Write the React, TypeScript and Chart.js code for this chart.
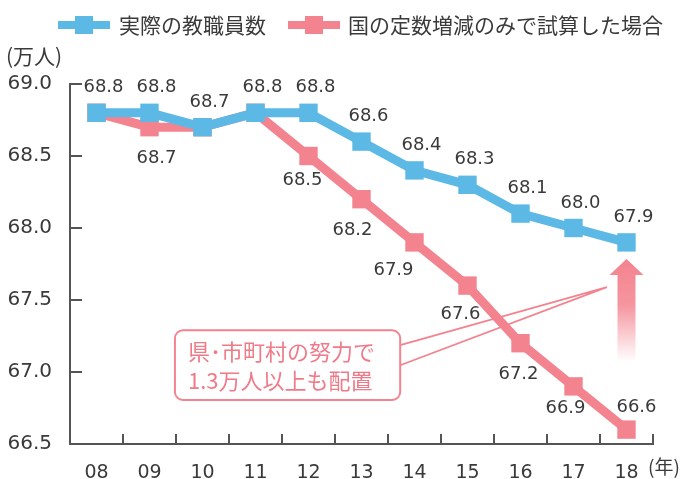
import React, { useEffect, useRef } from "react";
import { Chart, registerables } from "chart.js";

Chart.register(...registerables);

const categories = ["08", "09", "10", "11", "12", "13", "14", "15", "16", "17", "18"];
const actualStaff = [68.8, 68.8, 68.7, 68.8, 68.8, 68.6, 68.4, 68.3, 68.1, 68.0, 67.9];
const nationalOnly = [68.8, 68.7, 68.7, 68.8, 68.5, 68.2, 67.9, 67.6, 67.2, 66.9, 66.6];
const yTicks = [66.5, 67.0, 67.5, 68.0, 68.5, 69.0];
const seriesNames = ["実際の教職員数", "国の定数増減のみで試算した場合"];
const calloutLines = ["県･市町村の努力で", "1.3万人以上も配置"];
const yUnit = "(万人)";
const xUnit = "(年)";

// label placement (style only): offsets from each point, null = hidden
const blueLabelOffset: [number, number] = [7, -25];
const pinkLabelOffsets: ([number, number] | null)[] = [
  null, [7, 31], null, null, [-6, 24], [-9, 31], [-21, 28], [-7, 29], [-2, 31], [-8, 22], [10, -22],
];

const BLUE = "#5cb9e6";
const PINK = "#f3838f";
const AXIS = "#555555";
const TEXT = "#3a3a3a";
const CJK = '"Noto Sans CJK JP", sans-serif';
const NUM = '"DejaVu Sans", sans-serif';

const decorPlugin = {
  id: "decor",
  afterDatasetsDraw(chart: any) {
    const ctx = chart.ctx as CanvasRenderingContext2D;
    const xs = chart.scales.x;
    const ys = chart.scales.y;
    const area = chart.chartArea;
    const catW = (area.right - area.left) / categories.length;
    const px = (i: number) => xs.getPixelForValue(0) + i * catW;
    const py = (v: number) => ys.getPixelForValue(v);

    ctx.save();
    // inward ticks
    ctx.strokeStyle = AXIS;
    ctx.lineWidth = 2;
    yTicks.forEach((v) => {
      const y = py(v);
      ctx.beginPath();
      ctx.moveTo(area.left, y);
      ctx.lineTo(area.left + 12, y);
      ctx.stroke();
    });
    for (let i = 1; i <= categories.length; i++) {
      const x = area.left + i * catW;
      ctx.beginPath();
      ctx.moveTo(x, area.bottom);
      ctx.lineTo(x, area.bottom - 10);
      ctx.stroke();
    }

    // up arrow with gradient
    const ax = px(10);
    const headTop = py(67.785);
    const headBot = py(67.674);
    const shaftBot = py(67.07);
    const grad = ctx.createLinearGradient(0, headTop, 0, shaftBot);
    grad.addColorStop(0, "rgba(243,131,143,1)");
    grad.addColorStop(0.45, "rgba(243,131,143,0.85)");
    grad.addColorStop(1, "rgba(243,131,143,0)");
    ctx.fillStyle = grad;
    ctx.beginPath();
    ctx.moveTo(ax, headTop);
    ctx.lineTo(ax + 17, headBot);
    ctx.lineTo(ax + 9, headBot);
    ctx.lineTo(ax + 9, shaftBot);
    ctx.lineTo(ax - 9, shaftBot);
    ctx.lineTo(ax - 9, headBot);
    ctx.lineTo(ax - 17, headBot);
    ctx.closePath();
    ctx.fill();

    // callout box
    const bx1 = px(1.48);
    const bx2 = px(5.73);
    const by1 = py(67.29);
    const by2 = py(66.806);
    ctx.strokeStyle = PINK;
    ctx.lineWidth = 2;
    ctx.fillStyle = "#ffffff";
    ctx.beginPath();
    (ctx as any).roundRect(bx1, by1, bx2 - bx1, by2 - by1, 8);
    ctx.fill();
    ctx.stroke();
    // pointer
    const tipX = px(9.63);
    const tipY = py(67.59);
    ctx.lineWidth = 1.8;
    ctx.beginPath();
    ctx.moveTo(bx2, by1 + 15);
    ctx.lineTo(tipX, tipY);
    ctx.lineTo(bx2, by1 + 35);
    ctx.stroke();
    // callout text
    ctx.fillStyle = "#f07a88";
    ctx.font = `22px ${CJK}`;
    ctx.textAlign = "left";
    ctx.textBaseline = "middle";
    ctx.fillText(calloutLines[0], bx1 + 13, py(67.14));
    ctx.fillText(calloutLines[1], bx1 + 13, py(66.94));

    // data labels
    ctx.fillStyle = TEXT;
    ctx.font = `18px ${NUM}`;
    ctx.textAlign = "center";
    const m0 = chart.getDatasetMeta(0).data;
    const m1 = chart.getDatasetMeta(1).data;
    actualStaff.forEach((v, i) => {
      const p = m0[i];
      ctx.fillText(v.toFixed(1), p.x + blueLabelOffset[0], p.y + blueLabelOffset[1]);
    });
    nationalOnly.forEach((v, i) => {
      const off = pinkLabelOffsets[i];
      if (!off) return;
      const p = m1[i];
      ctx.fillText(v.toFixed(1), p.x + off[0], p.y + off[1]);
    });

    // legend
    const drawMarker = (x1: number, x2: number, y: number, color: string) => {
      ctx.strokeStyle = color;
      ctx.lineWidth = 8;
      ctx.beginPath();
      ctx.moveTo(x1, y);
      ctx.lineTo(x2, y);
      ctx.stroke();
      ctx.fillStyle = color;
      const c = (x1 + x2) / 2;
      ctx.fillRect(c - 9, y - 9, 18, 18);
    };
    const ly = 25;
    drawMarker(58, 110, ly, BLUE);
    drawMarker(288, 340, ly, PINK);
    ctx.fillStyle = TEXT;
    ctx.font = `21px ${CJK}`;
    ctx.textAlign = "left";
    ctx.textBaseline = "middle";
    ctx.fillText(seriesNames[0], 119, ly);
    ctx.fillText(seriesNames[1], 348, ly);

    // units
    ctx.font = `21px ${CJK}`;
    ctx.fillText(yUnit, 6, 56);
    ctx.font = `19px ${CJK}`;
    ctx.fillText(xUnit, area.right - 5, 467);
    ctx.restore();
  },
};

export default function App() {
  const ref = useRef<HTMLCanvasElement | null>(null);
  useEffect(() => {
    document.body.style.margin = "0";
    const chart = new Chart(ref.current as HTMLCanvasElement, {
      type: "line",
      data: {
        labels: categories,
        datasets: [
          {
            label: seriesNames[0],
            data: actualStaff,
            borderColor: BLUE,
            backgroundColor: BLUE,
            borderWidth: 9,
            pointStyle: "rect",
            pointRadius: 13,
            pointBorderWidth: 0,
            tension: 0,
          },
          {
            label: seriesNames[1],
            data: nationalOnly,
            borderColor: PINK,
            backgroundColor: PINK,
            borderWidth: 9,
            pointStyle: "rect",
            pointRadius: 13,
            pointBorderWidth: 0,
            tension: 0,
          },
        ],
      },
      options: {
        animation: false,
        responsive: false,
        layout: { padding: { top: 84, right: 33, left: 0, bottom: 0 } },
        plugins: { legend: { display: false }, tooltip: { enabled: false } },
        scales: {
          x: {
            offset: true,
            grid: { display: false },
            border: { display: true, color: AXIS, width: 2 },
            ticks: { color: TEXT, font: { family: NUM, size: 19 }, padding: 10, maxRotation: 0 },
            afterFit: (s: any) => { s.height = 35; },
          },
          y: {
            min: 66.5,
            max: 69.0,
            grid: { display: false },
            border: { display: true, color: AXIS, width: 2 },
            afterBuildTicks: (s: any) => { s.ticks = yTicks.map((v) => ({ value: v })); },
            ticks: {
              color: TEXT,
              font: { family: NUM, size: 20 },
              padding: 10,
              callback: (v: any) => Number(v).toFixed(1),
            },
            afterFit: (s: any) => { s.width = 70; },
          },
        },
      },
      plugins: [decorPlugin],
    });
    return () => chart.destroy();
  }, []);
  return (
    <canvas
      ref={ref}
      width={686}
      height={479}
      style={{ display: "block", position: "absolute", left: 0, top: 0, width: 686, height: 479 }}
    />
  );
}
